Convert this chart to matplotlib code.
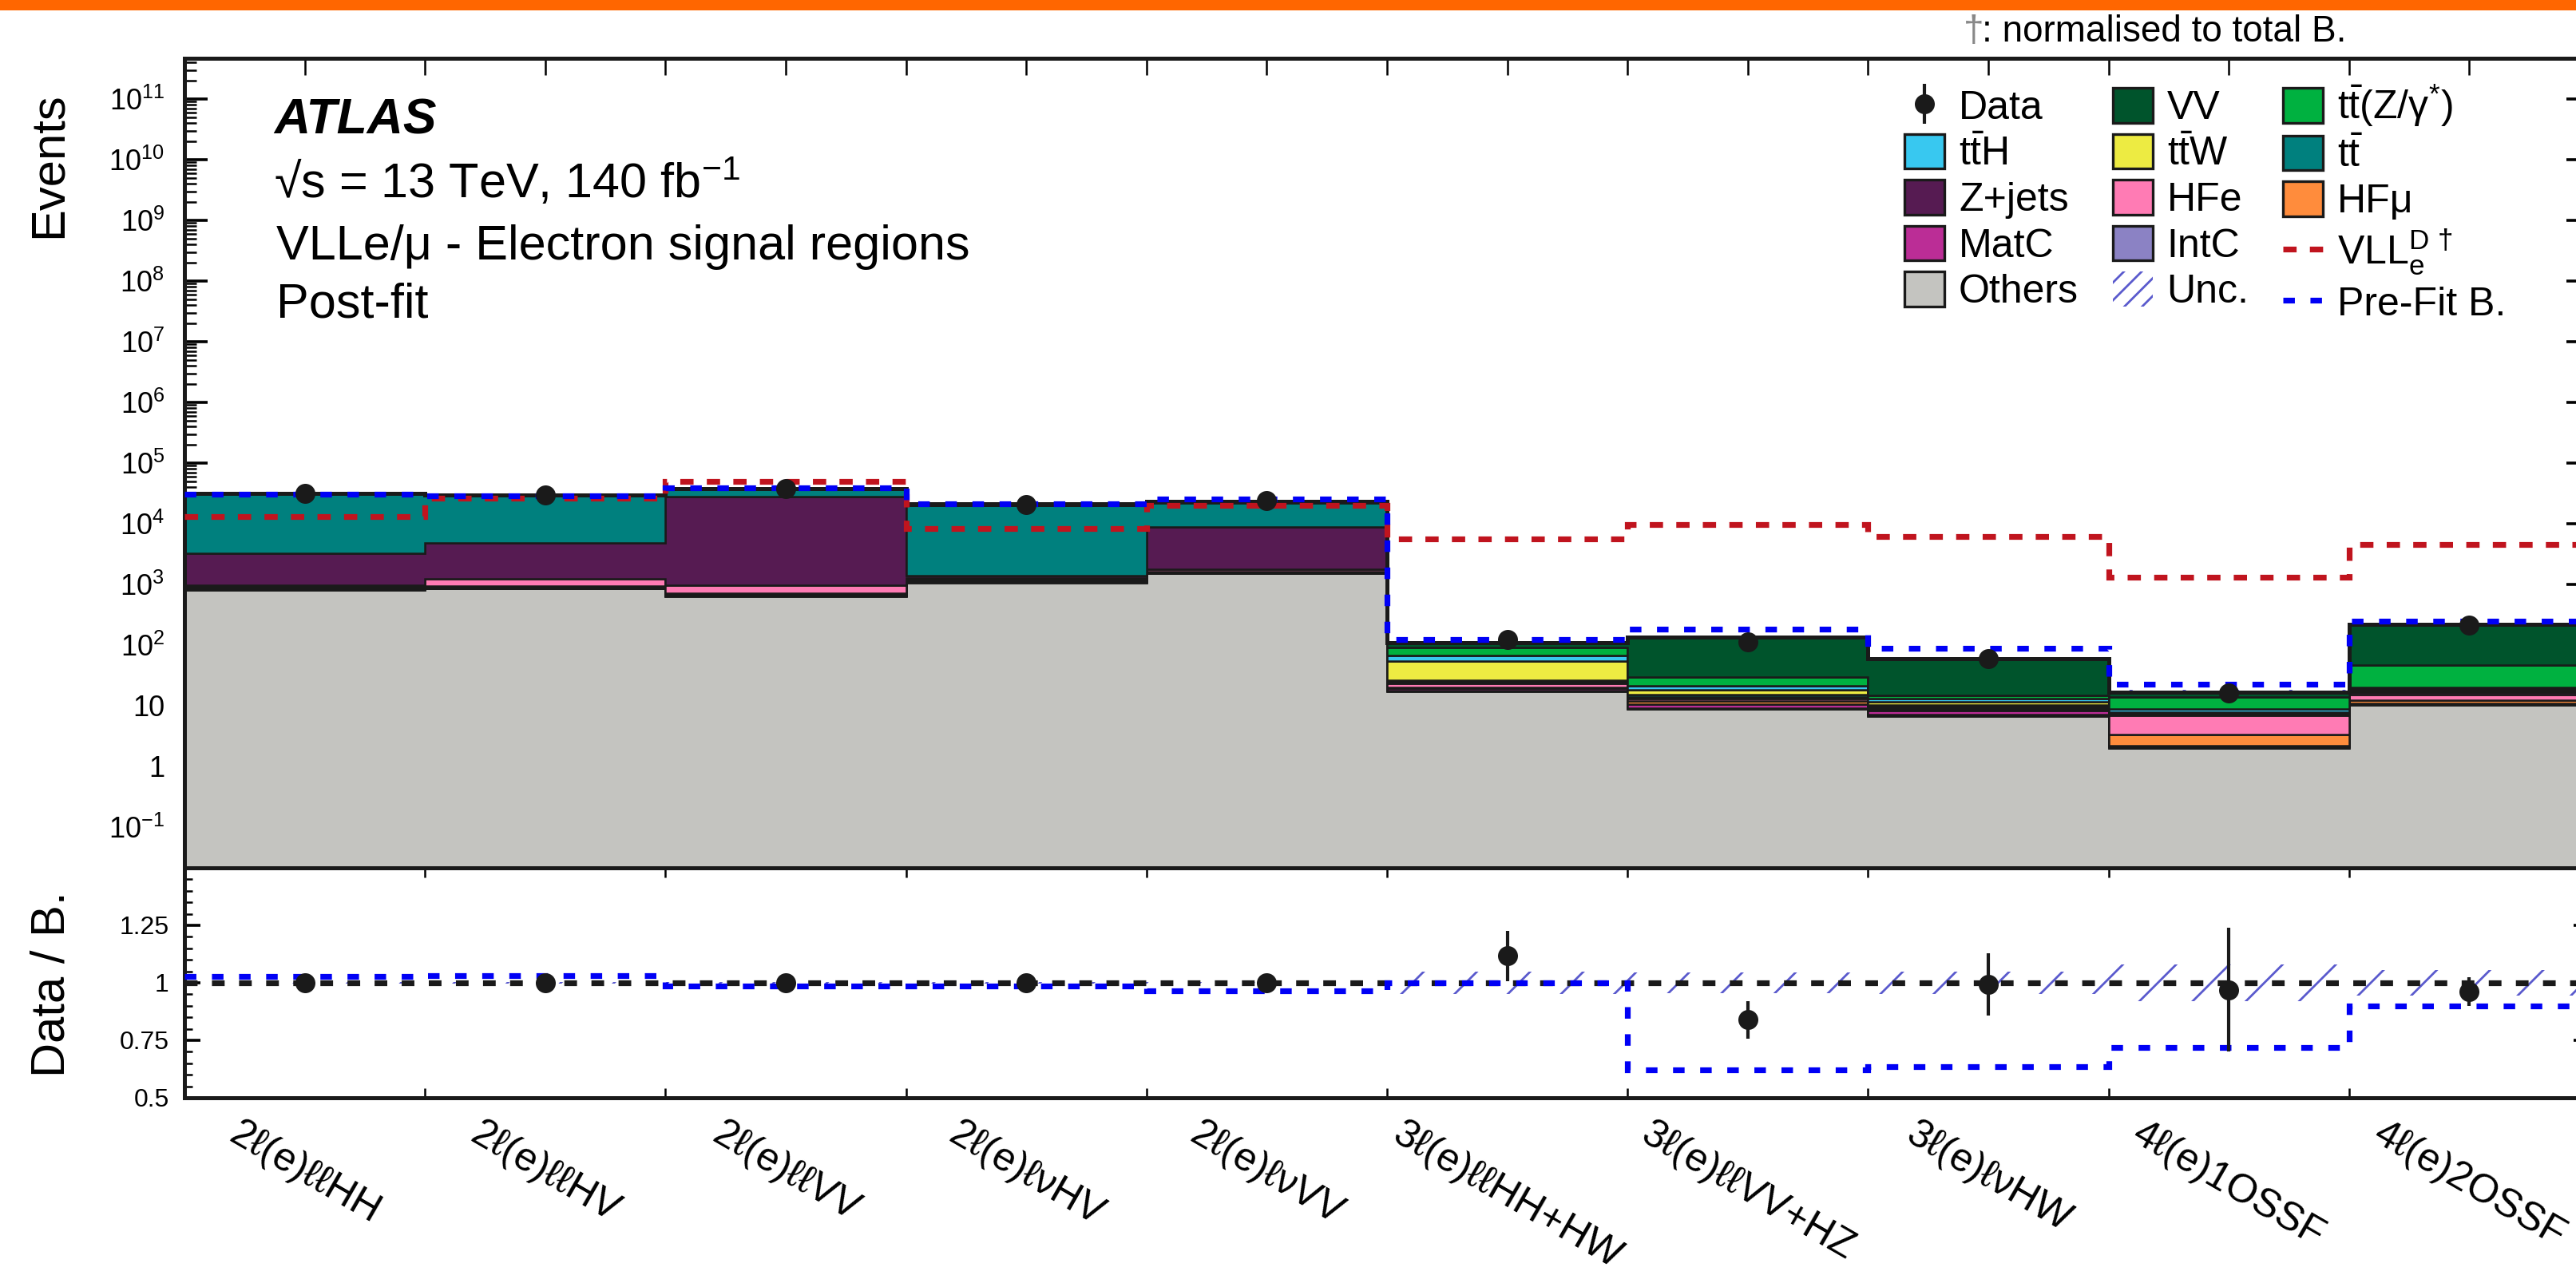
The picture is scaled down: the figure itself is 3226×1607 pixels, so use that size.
import numpy as np
import matplotlib
matplotlib.use('Agg')
import matplotlib.pyplot as plt
from matplotlib.patches import Patch, Rectangle
from matplotlib.lines import Line2D
from matplotlib.ticker import FuncFormatter, LogLocator, MultipleLocator, NullFormatter, NullLocator

plt.rcParams['font.family'] = ['Liberation Sans', 'DejaVu Sans']
plt.rcParams['mathtext.fontset'] = 'custom'
plt.rcParams['mathtext.rm'] = 'Liberation Sans'
plt.rcParams['mathtext.it'] = 'Liberation Sans:italic'
plt.rcParams['mathtext.bf'] = 'Liberation Sans:bold'
plt.rcParams['hatch.linewidth'] = 1.0

# ---------------- data ----------------
regions = ['2ℓ(e)ℓℓHH', '2ℓ(e)ℓℓHV', '2ℓ(e)ℓℓVV', '2ℓ(e)ℓνHV', '2ℓ(e)ℓνVV',
           '3ℓ(e)ℓℓHH+HW', '3ℓ(e)ℓℓVV+HZ', '3ℓ(e)ℓνHW', '4ℓ(e)1OSSF', '4ℓ(e)2OSSF']

data = [31500, 30100, 38300, 20900, 23800, 123, 113, 59.3, 16.4, 213]
data_err = [180, 175, 195, 145, 155, 11, 10.6, 7.7, 4.0, 14.6]

# stack, bottom to top
others = [800, 850, 640, 1060, 1510, 17, 8.8, 6.8, 2.0, 10.2]
intc = [30, 20, 20, 30, 30, 0.8, 0.4, 0.4, 0.1, 0.3]
matc = [50, 40, 40, 60, 60, 1.5, 1.5, 1.2, 0.1, 0.5]
hfmu = [30, 20, 20, 40, 40, 0.8, 1.3, 0.4, 1.2, 1.5]
hfe = [60, 300, 260, 100, 120, 3.5, 1.0, 0.4, 3.5, 3.0]
zjets = [2260, 3620, 27200, 120, 7100, 1.0, 1.0, 0.4, 0.3, 1.0]
ttbar = [27000, 24500, 8500, 18500, 13200, 1.5, 1.5, 0.6, 0.3, 1.2]
ttw = [150, 100, 100, 200, 300, 28, 3.0, 1.6, 0.3, 1.0]
tth = [100, 80, 80, 150, 200, 14, 3.0, 1.4, 1.0, 1.6]
ttz = [250, 200, 250, 300, 400, 22, 8.0, 1.5, 5.3, 27]
vv = [400, 350, 700, 500, 700, 20, 105, 45, 2.8, 175]

vll = [13300, 26000, 49300, 8400, 20300, 5600, 9800, 6200, 1300, 4600]
prefit = [30600, 29200, 38800, 21200, 25200, 125, 182, 89, 22.8, 245]

# ratio panel
data_ratio = [1.0, 1.0, 1.0, 1.0, 1.0, 1.117, 0.839, 0.993, 0.97, 0.962]
data_ratio_err = [0.006, 0.006, 0.005, 0.007, 0.006, 0.11, 0.082, 0.135, 0.27, 0.062]
prefit_ratio = [1.028, 1.03, 0.987, 0.987, 0.966, 1.0, 0.623, 0.635, 0.719, 0.90]
unc_rel = [0.004, 0.004, 0.004, 0.004, 0.005, 0.05, 0.045, 0.05, 0.08, 0.055]

tt = r'$\mathrm{t}\bar{\mathrm{t}}$'
stack = [
    ('Others', others, '#c4c4c0'),
    ('IntC', intc, '#8b82c4'),
    ('MatC', matc, '#bb2d96'),
    ('HFμ', hfmu, '#ff8c3c'),
    ('HFe', hfe, '#ff7bb4'),
    ('Z+jets', zjets, '#561b52'),
    (tt, ttbar, '#00807e'),
    (tt + 'W', ttw, '#edeb42'),
    (tt + 'H', tth, '#38c8f0'),
    (tt + '(Z/γ$^{*}$)', ttz, '#00b140'),
    ('VV', vv, '#00542c'),
]

edges = np.arange(len(regions) + 1)
centers = edges[:-1] + 0.5

red = '#c0141e'
blue = '#0000f5'
hatch_col = '#5a5acd'

# ---------------- figure ----------------
W, H = 3226, 1607
fig = plt.figure(figsize=(W / 200, H / 200), dpi=200)
left, width = 231 / W, 3012 / W
ax = fig.add_axes([left, 1 - 1087 / H, width, (1087 - 73) / H])
axr = fig.add_axes([left, 1 - 1375 / H, width, (1375 - 1087) / H], sharex=ax)

# stacked backgrounds
bottom = np.full(len(regions), 1e-3)
for name, vals, col in stack:
    top = bottom + np.array(vals)
    ax.stairs(top, edges, baseline=bottom, fill=True, facecolor=col,
              edgecolor='#1a1a1a', lw=0.9, zorder=2)
    bottom = top
total = bottom

unc = np.array(unc_rel)
ax.stairs(total * (1 + unc), edges, baseline=total * (1 - unc), fill=True,
          facecolor='none', edgecolor=hatch_col, hatch='/', lw=0, zorder=3)
ax.stairs(total, edges, baseline=None, color='#1a1a1a', lw=1.8, zorder=3)
ax.stairs(vll, edges, baseline=None, color=red, lw=2.6,
          linestyle=(0, (2.3, 2.3)), zorder=4)
ax.stairs(prefit, edges, baseline=None, color=blue, lw=2.6,
          linestyle=(0, (2.0, 2.7)), zorder=5)
eb = ax.errorbar(centers, data, yerr=data_err, fmt='o', color='#1a1a1a',
                 ms=8, elinewidth=1.5, capsize=0, zorder=6)

ax.set_yscale('log')
ax.set_ylim(0.0213, 4.69e11)
ax.set_xlim(0, len(regions))


def log_label(v, pos):
    if abs(v - 1) < 1e-9:
        return '1'
    if abs(v - 10) < 1e-9:
        return '10'
    return r'$10^{%d}$' % int(round(np.log10(v)))


ax.yaxis.set_major_locator(LogLocator(base=10, numticks=30))
ax.yaxis.set_minor_locator(LogLocator(base=10, subs=np.arange(2, 10), numticks=30))
ax.yaxis.set_major_formatter(FuncFormatter(log_label))
ax.yaxis.set_minor_formatter(NullFormatter())
ax.set_xticks(edges)
ax.xaxis.set_minor_locator(NullLocator())
ax.tick_params(axis='x', which='both', direction='in', top=True, bottom=True,
               labelbottom=False, length=7.5, width=0.9)
ax.tick_params(axis='y', which='major', direction='in', left=True, right=True,
               length=10.4, width=1.3, labelsize=13, pad=9)
ax.tick_params(axis='y', which='minor', direction='in', left=True, right=True,
               length=5.4, width=0.9)

# ratio panel
axr.stairs(1 + unc, edges, baseline=1 - unc, fill=True, facecolor='none',
           edgecolor=hatch_col, hatch='/', lw=0, zorder=2)
axr.axhline(1, color='#1a1a1a', lw=2.6, linestyle=(0, (2.2, 2.5)), zorder=3)
axr.stairs(prefit_ratio, edges, baseline=None, color=blue, lw=2.6,
           linestyle=(0, (2.0, 2.7)), zorder=4)
axr.errorbar(centers, data_ratio, yerr=data_ratio_err, fmt='o', color='#1a1a1a',
             ms=8, elinewidth=1.5, capsize=0, zorder=6)
axr.set_ylim(0.5, 1.5)
axr.set_yticks([0.5, 0.75, 1, 1.25])
axr.set_yticklabels(['0.5', '0.75', '1', '1.25'])
axr.yaxis.set_minor_locator(MultipleLocator(0.05))
axr.tick_params(axis='y', which='major', direction='in', left=True, right=True,
                length=7.2, width=1.3, labelsize=11.5, pad=7)
axr.tick_params(axis='y', which='minor', direction='in', left=True, right=True,
                length=3.6, width=0.9)
axr.set_xticks(edges)
axr.set_xticklabels([''] * len(edges))
axr.set_xticks(centers, minor=True)
axr.set_xticklabels(regions, minor=True, rotation=-30, ha='center', fontsize=18)
axr.tick_params(axis='x', which='major', direction='in', top=True, bottom=True,
                length=4.3, width=0.9)
axr.tick_params(axis='x', which='minor', length=0, pad=8)

for a in (ax, axr):
    for s in a.spines.values():
        s.set_linewidth(1.8)
        s.set_color('#1a1a1a')

# axis titles
fig.text(61 / W, 1 - 115 / H, 'Events', rotation=90, ha='center', va='top', fontsize=21.5)
fig.text(65 / W, 1 - 1233 / H, 'Data / B.', rotation=90, ha='center', va='center', fontsize=21.5)

# labels
fig.text(343 / W, 1 - 167 / H, 'ATLAS', fontsize=22.5, fontweight='bold',
         fontstyle='italic', va='baseline')
fig.text(343 / W, 1 - 248 / H, '√s = 13 TeV, 140 fb$^{\\mathrm{-1}}$',
         fontsize=22, va='baseline')
fig.text(346 / W, 1 - 325 / H, 'VLLe/μ - Electron signal regions', fontsize=22, va='baseline')
fig.text(346 / W, 1 - 397 / H, 'Post-fit', fontsize=22, va='baseline')

fig.text(2459 / W, 1 - 52 / H, '†', color='#888888', fontsize=16.5, va='baseline')
fig.text(2482 / W, 1 - 52 / H, ': normalised to total B.', fontsize=16.5, va='baseline')

fig.add_artist(Rectangle((0, 1 - 13 / H), 1, 13 / H, transform=fig.transFigure,
                         color='#ff6600', lw=0))


# legend, filled column by column
def box(col):
    return Patch(facecolor=col, edgecolor='#1a1a1a', lw=1.2)


cols = {name: col for name, _, col in stack}
handles = [
    eb, box(cols[tt + 'H']), box(cols['Z+jets']), box(cols['MatC']), box(cols['Others']),
    box(cols['VV']), box(cols[tt + 'W']), box(cols['HFe']), box(cols['IntC']),
    Patch(facecolor='none', edgecolor=hatch_col, hatch='///', lw=0),
    box(cols[tt + '(Z/γ$^{*}$)']), box(cols[tt]), box(cols['HFμ']),
    Line2D([], [], color=red, lw=2.6, linestyle=(0, (2.3, 2.3))),
    Line2D([], [], color=blue, lw=2.6, linestyle=(0, (2.0, 2.7))),
]
labels = [
    'Data', tt + 'H', 'Z+jets', 'MatC', 'Others',
    'VV', tt + 'W', 'HFe', 'IntC', 'Unc.',
    tt + '(Z/γ$^{*}$)', tt, 'HFμ', r'VLL$_{\mathrm{e}}^{\mathrm{D}\,\dagger}$', 'Pre-Fit B.',
]
ax.legend(handles, labels, ncol=3, loc='upper left',
          bbox_to_anchor=(2385 / W, 1 - 104 / H), bbox_transform=fig.transFigure,
          frameon=False, fontsize=18, handlelength=1.0, handleheight=0.96,
          handletextpad=0.36, columnspacing=0.85, labelspacing=0.17,
          borderpad=0, borderaxespad=0)

fig.savefig('out.png', dpi=200)
